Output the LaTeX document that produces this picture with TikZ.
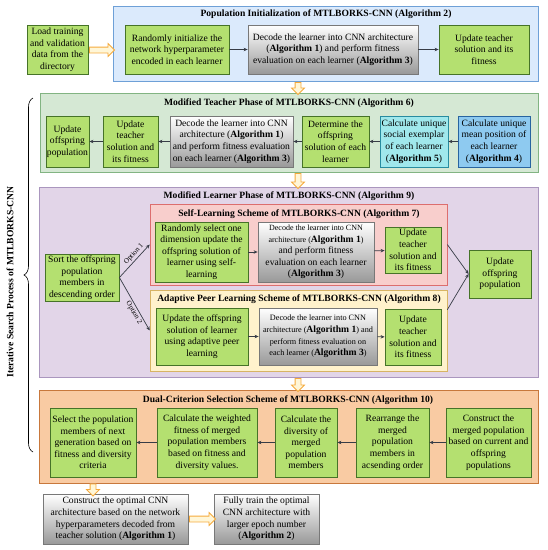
\documentclass[tikz,border=0pt]{standalone}
\usepackage{fontspec}
\setmainfont{Liberation Serif}
\usetikzlibrary{shapes.arrows,decorations.pathreplacing,arrows.meta}

\definecolor{popfill}{RGB}{219,234,252}
\definecolor{popline}{RGB}{110,160,215}
\definecolor{teachfill}{RGB}{213,232,212}
\definecolor{teachline}{RGB}{130,180,130}
\definecolor{learnfill}{RGB}{226,213,232}
\definecolor{learnline}{RGB}{170,150,190}
\definecolor{selffill}{RGB}{248,206,204}
\definecolor{selfline}{RGB}{220,110,110}
\definecolor{peerfill}{RGB}{255,242,204}
\definecolor{peerline}{RGB}{215,180,100}
\definecolor{dualfill}{RGB}{249,203,163}
\definecolor{dualline}{RGB}{200,120,60}
\definecolor{greenfill}{RGB}{180,224,112}
\definecolor{greenline}{RGB}{70,115,40}
\definecolor{cyanfill}{RGB}{160,232,236}
\definecolor{cyanline}{RGB}{40,140,160}
\definecolor{bluefill}{RGB}{142,202,240}
\definecolor{blueline}{RGB}{40,100,160}
\definecolor{grayline}{RGB}{120,120,120}
\definecolor{linkcol}{RGB}{55,60,70}
\definecolor{hollowline}{RGB}{245,170,60}
\definecolor{hollowfill}{RGB}{255,246,215}

\begin{document}
\begin{tikzpicture}[x=1pt, y=-1pt,
    every node/.style={font=\fontsize{9.6}{11.6}\selectfont, align=center, inner sep=1pt},
    sz/.style 2 args={minimum width=#1pt, minimum height=#2pt},
    region/.style={draw=#1line, fill=#1fill, line width=0.6pt, inner sep=0pt},
    greenbox/.style={draw=greenline, fill=greenfill, line width=0.8pt},
    graybox/.style={draw=grayline, top color=white, bottom color=black!40, line width=0.8pt},
    title/.style={font=\fontsize{9.6}{11.6}\selectfont\bfseries},
    optlabel/.style={sloped, font=\fontsize{7.2}{8}\selectfont, inner sep=1.5pt},
    link/.style={draw=linkcol, line width=0.7pt, -{Stealth[length=4pt,width=3.5pt]}},
    hollow/.style={single arrow, draw=hollowline, fill=hollowfill, line width=0.8pt, inner sep=2.5pt,
        minimum width=0pt, single arrow head extend=3.5pt, single arrow head indent=0pt}]

    \useasboundingbox (0,0) rectangle (548,550);

    % Population initialization
    \node[greenbox, sz={61}{49}] (load) at (57.5,49.5) {Load training\\and validation\\data from the\\directory};
    \node[region=pop, sz={425}{75}] (popreg) at (325.5,43.5) {};
    \node[title] (poptitle) at (326,14) {Population Initialization of MTLBORKS-CNN (Algorithm 2)};
    \node[greenbox, sz={104}{49}] (rinit) at (177,49.5) {Randomly initialize the\\network hyperparameter\\encoded in each learner};
    \node[graybox, sz={170}{49}] (dec1) at (333,49.5) {Decode the learner into CNN architecture\\(\textbf{Algorithm 1}) and perform fitness\\evaluation on each learner (\textbf{Algorithm 3})};
    \node[greenbox, sz={90}{49}] (updt0) at (484,49.5) {Update teacher\\solution and its\\fitness};
    \draw[link] (rinit) -- (dec1);
    \draw[link] (dec1) -- (updt0);

    % Modified teacher phase
    \node[region=teach, sz={498}{79}] (teachreg) at (289,132.5) {};
    \node[title] (teachtitle) at (289,103) {Modified Teacher Phase of MTLBORKS-CNN (Algorithm 6)};
    \node[greenbox, sz={43}{51}] (updoff1) at (67.5,141.5) {Update\\offspring\\population};
    \node[greenbox, sz={55}{51}] (updt1) at (130.5,141.5) {Update\\teacher\\solution and\\its fitness};
    \node[graybox, sz={123}{51}] (dec2) at (231.5,141.5) {Decode the learner into CNN\\architecture (\textbf{Algorithm 1})\\and perform fitness evaluation\\on each learner (\textbf{Algorithm 3})};
    \node[greenbox, sz={67}{51}] (determ) at (335.5,141.5) {Determine the\\offspring\\solution of each\\learner};
    \node[draw=cyanline, fill=cyanfill, line width=0.8pt, sz={68}{51}] (social) at (414,141.5) {Calculate unique\\social exemplar\\of each learner\\(\textbf{Algorithm 5})};
    \node[draw=blueline, fill=bluefill, line width=0.8pt, sz={72}{51}] (mean) at (494,141.5) {Calculate unique\\mean position of\\each learner\\(\textbf{Algorithm 4})};
    \draw[link] (mean) -- (social);
    \draw[link] (social) -- (determ);
    \draw[link] (determ) -- (dec2);
    \draw[link] (dec2) -- (updt1);
    \draw[link] (updt1) -- (updoff1);

    % Modified learner phase
    \node[region=learn, sz={499}{190}] (learnreg) at (288.5,282) {};
    \node[title] (learntitle) at (289,196) {Modified Learner Phase of MTLBORKS-CNN (Algorithm 9)};
    \node[region=self, sz={297}{81}] (selfreg) at (298.5,244.5) {};
    \node[title] (selftitle) at (299,214) {Self-Learning Scheme of MTLBORKS-CNN (Algorithm 7)};
    \node[region=peer, sz={297}{81}] (peerreg) at (298.5,330.5) {};
    \node[title] (peertitle) at (299,299.5) {Adaptive Peer Learning Scheme of MTLBORKS-CNN (Algorithm 8)};
    \node[greenbox, sz={74}{47}] (sort) at (82,277.5) {Sort the offspring\\population\\members in\\descending order};
    \node[greenbox, sz={93}{60}] (rsel) at (201.5,252) {Randomly select one\\dimension update the\\offspring solution of\\learner using self-\\learning};
    \node[graybox, sz={116}{60}] (dec3) at (316,252) {{\fontsize{8}{10}\selectfont Decode the learner into CNN}\\{\fontsize{8}{10}\selectfont architecture (}\textbf{Algorithm 1}{\fontsize{8}{10}\selectfont )}\\and perform fitness\\evaluation on each learner\\(\textbf{Algorithm 3})};
    \node[greenbox, sz={56}{46}] (updt2) at (413,250) {Update\\teacher\\solution and\\its fitness};
    \node[greenbox, sz={92}{57}] (upeer) at (202,336.5) {Update the offspring\\solution of learner\\using adaptive peer\\learning};
    \node[graybox, sz={118}{57}, font=\fontsize{8.2}{11.6}\selectfont] (dec4) at (318,336.5) {Decode the learner into CNN\\architecture (\textbf{\fontsize{9.6}{11.6}\selectfont Algorithm 1}) and\\perform fitness evaluation on\\each learner (\textbf{\fontsize{9.6}{11.6}\selectfont Algorithm 3})};
    \node[greenbox, sz={56}{56}] (updt3) at (413,337) {Update\\teacher\\solution and\\its fitness};
    \node[greenbox, sz={62}{48}] (updoff2) at (500,274) {Update\\offspring\\population};
    \draw[link] (sort.east) -- node[optlabel, above, pos=0.6] (opt1) {Option 1} (selfreg.west);
    \draw[link] (sort.east) -- node[optlabel, below, pos=0.62] (opt2) {Option 2} (peerreg.west);
    \draw[link] (rsel) -- (dec3);
    \draw[link] (dec3) -- (updt2);
    \draw[link] (upeer) -- (dec4);
    \draw[link] (dec4) -- (updt3);
    \draw[link] (selfreg.east) -- (updoff2.west);
    \draw[link] ([yshift=-20pt]peerreg.north east) -- (updoff2.west);

    % Dual-criterion selection
    \node[region=dual, sz={499}{93}] (dualreg) at (288.5,436.5) {};
    \node[title] (dualtitle) at (288,400) {Dual-Criterion Selection Scheme of MTLBORKS-CNN (Algorithm 10)};
    \node[greenbox, sz={86}{69}] (selnext) at (93,442.5) {Select the population\\members of next\\generation based on\\fitness and diversity\\criteria};
    \node[greenbox, sz={100}{69}] (weighted) at (207,442.5) {Calculate the weighted\\fitness of merged\\population members\\based on fitness and\\diversity values.};
    \node[greenbox, sz={62}{69}] (divers) at (306,442.5) {Calculate the\\diversity of\\merged\\population\\members};
    \node[greenbox, sz={73}{69}] (rearr) at (392.5,442.5) {Rearrange the\\merged\\population\\members in\\acsending order};
    \node[greenbox, sz={85}{69}] (constr) at (488.5,442.5) {Construct the\\merged population\\based on current and\\offspring\\populations};
    \draw[link] (constr) -- (rearr);
    \draw[link] (rearr) -- (divers);
    \draw[link] (divers) -- (weighted);
    \draw[link] (weighted) -- (selnext);

    % Final stage
    \node[graybox, sz={145}{50}] (optimal) at (115.5,519) {Construct the optimal CNN\\architecture based on the network\\hyperparameters decoded from\\teacher solution (\textbf{Algorithm 1})};
    \node[graybox, sz={105}{50}] (fulltrain) at (266.5,519) {Fully train the optimal\\CNN architecture with\\larger epoch number\\(\textbf{Algorithm 2})};

    % Hollow arrows between stages
    \node[hollow, minimum height=25pt] (h1) at (100.5,50) {};
    \node[hollow, rotate=-90, minimum height=12pt] (h2) at (298,87) {};
    \node[hollow, rotate=-90, minimum height=15pt] (h3) at (298,179.5) {};
    \node[hollow, rotate=-90, minimum height=13pt] (h4) at (298,383.5) {};
    \node[hollow, rotate=-90, minimum height=12pt] (h5) at (93,488.5) {};
    \node[hollow, minimum height=26pt] (h6) at (201,519) {};

    % Brace of the iterative search
    \draw[decorate, decoration={brace, amplitude=9pt}, line width=0.6pt] (33,452) -- (33,98);
    \node[rotate=90, font=\fontsize{9.6}{11.6}\selectfont\bfseries] (iterlabel) at (10,282) {Iterative Search Process of MTLBORKS-CNN};

\end{tikzpicture}
\end{document}
